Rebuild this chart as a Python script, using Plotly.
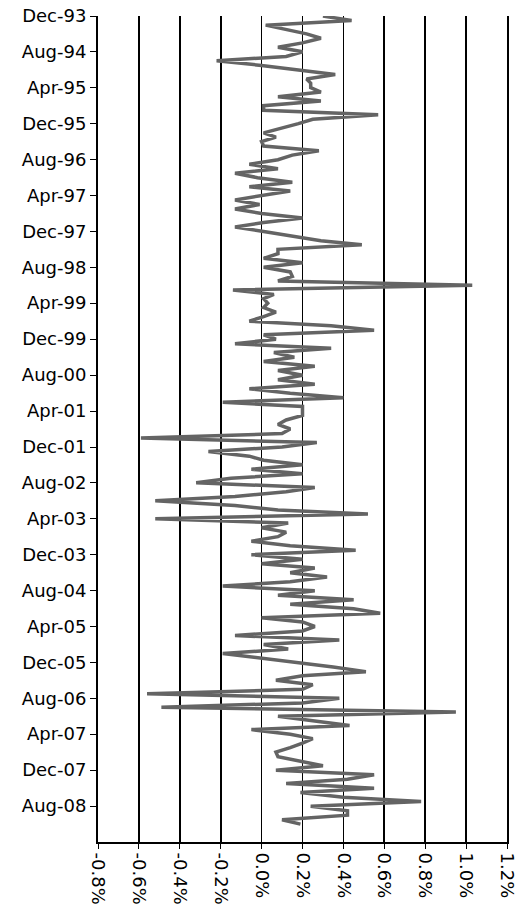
import pandas as pd
import plotly.graph_objects as go

# Monthly values (percent), Dec-93 onward
start_month = "1993-12-01"
values_pct = [
    0.30, 0.44, 0.02, 0.12, 0.22, 0.29, 0.20, 0.08, 0.20, 0.12,
    -0.22, 0.00, 0.19, 0.36, 0.22, 0.24, 0.24, 0.29, 0.08, 0.29,
    0.01, 0.01, 0.57, 0.25, 0.18, 0.10, 0.01, 0.07, 0.00, 0.01,
    0.28, 0.15, 0.08, -0.06, 0.08, -0.13, -0.02, 0.15, -0.06, 0.14,
    0.01, -0.13, -0.01, -0.13, 0.00, 0.20, 0.01, -0.13, 0.01, 0.15,
    0.29, 0.49, 0.08, 0.08, 0.01, 0.20, 0.01, 0.14, 0.15, 0.08,
    1.03, -0.14, 0.06, 0.01, 0.03, 0.01, 0.07, 0.01, -0.06, 0.34,
    0.55, 0.01, 0.07, -0.13, 0.34, 0.06, 0.16, 0.01, 0.26, 0.08,
    0.20, 0.08, 0.26, -0.06, 0.14, 0.40, -0.19, 0.20, 0.20, 0.20,
    0.12, 0.08, 0.14, 0.10, -0.59, 0.27, 0.10, -0.26, -0.06, 0.01,
    0.20, -0.05, 0.20, -0.15, -0.32, 0.26, 0.12, -0.13, -0.52, -0.13,
    0.08, 0.52, -0.52, 0.13, 0.00, 0.12, 0.08, -0.05, 0.14, 0.46,
    -0.05, 0.20, 0.00, 0.26, 0.14, 0.32, 0.14, -0.19, 0.26, 0.08,
    0.45, 0.14, 0.45, 0.58, 0.00, 0.20, 0.26, 0.20, -0.13, 0.38,
    0.01, 0.13, -0.19, -0.01, 0.19, 0.35, 0.51, 0.20, 0.07, 0.25,
    0.20, -0.56, 0.38, 0.20, -0.49, 0.95, 0.08, 0.25, 0.43, -0.05,
    0.14, 0.25, 0.20, 0.14, 0.07, 0.08, 0.20, 0.30, 0.07, 0.55,
    0.42, 0.12, 0.55, 0.19, 0.40, 0.78, 0.24, 0.42, 0.42, 0.10,
    0.19,
]
months = pd.date_range(start_month, periods=len(values_pct), freq="MS")
values = [v / 100 for v in values_pct]

# Axis ticks
x_tick_values = [-0.008, -0.006, -0.004, -0.002, 0.0, 0.002, 0.004,
                 0.006, 0.008, 0.010, 0.012]
x_tick_labels = ["-0.8%", "-0.6%", "-0.4%", "-0.2%", "0.0%", "0.2%",
                 "0.4%", "0.6%", "0.8%", "1.0%", "1.2%"]
y_tick_dates = pd.date_range(start_month, "2008-08-01", freq="8MS")
y_tick_labels = [d.strftime("%b-%y") for d in y_tick_dates]

x_min, x_max = -0.008, 0.012
y_top, y_bottom = "1993-12-01", "2009-04-01"

fig = go.Figure(
    go.Scatter(
        x=values, y=months, mode="lines",
        line=dict(color="#646464", width=3.5),
        hoverinfo="skip",
    )
)

font = dict(family="DejaVu Sans", size=18, color="black")
fig.update_layout(
    width=517, height=914,
    margin=dict(l=98, r=10, t=16, b=72),
    paper_bgcolor="white", plot_bgcolor="white",
    showlegend=False,
    font=font,
)
fig.update_xaxes(
    range=[x_min, x_max], tickvals=x_tick_values, ticktext=x_tick_labels,
    tickangle=90, showgrid=True, gridcolor="black", gridwidth=1.6,
    zeroline=False, showline=True, linecolor="black", linewidth=2,
    ticks="outside", ticklen=5, tickcolor="black", tickfont=font,
    automargin=False, ticklabeloverflow="allow",
)
fig.update_yaxes(
    type="date", range=[y_bottom, y_top],
    tickvals=y_tick_dates, ticktext=y_tick_labels,
    showgrid=False, zeroline=False,
    showline=True, linecolor="black", linewidth=2, mirror=True,
    ticks="outside", ticklen=6, tickcolor="black", tickfont=font,
    automargin=False, ticklabeloverflow="allow",
)
fig.write_html(
    "out.html",
    config={"displayModeBar": False, "staticPlot": True},
    post_script="document.body.style.margin='0px';document.body.style.overflow='hidden';",
)
